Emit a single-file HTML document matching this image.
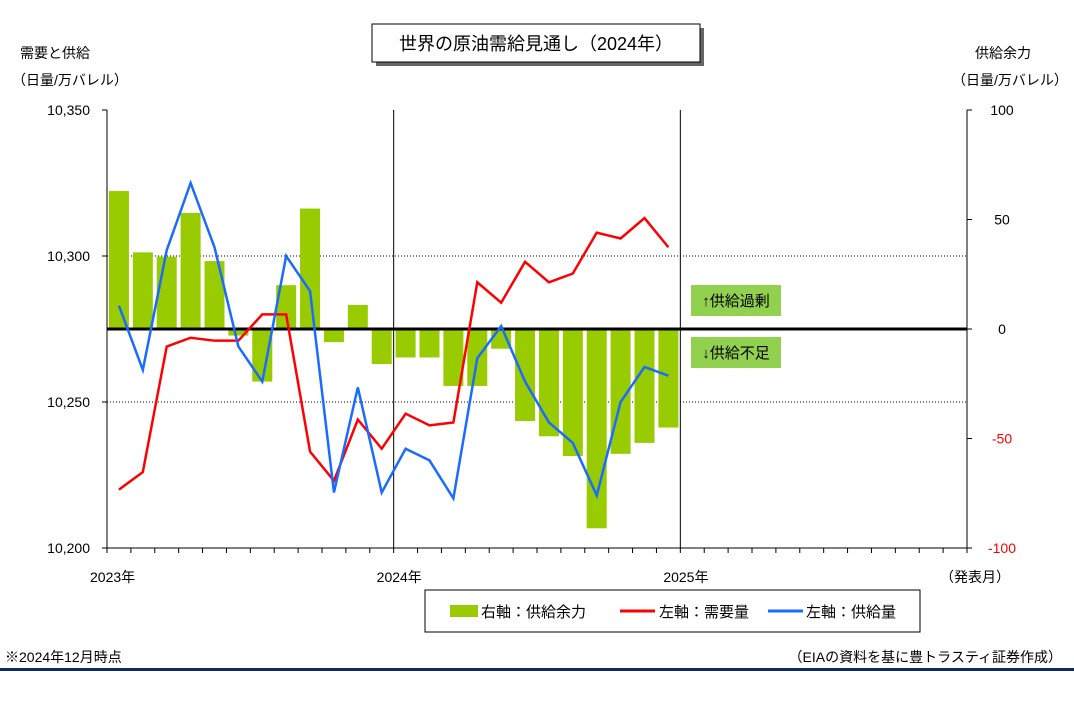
<!DOCTYPE html>
<html><head><meta charset="utf-8"><style>
body{margin:0;background:#fff;width:1074px;height:707px;overflow:hidden;font-family:"Liberation Sans","Noto Sans CJK JP",sans-serif;}
</style></head><body>
<svg id="chart" width="1074" height="707" xmlns="http://www.w3.org/2000/svg" font-family="'Liberation Sans','Noto Sans CJK JP',sans-serif">
<rect x="376" y="28" width="328" height="38" fill="#666"/>
<rect x="372" y="24" width="328" height="38" fill="#fff" stroke="#000"/>
<text x="536" y="50" font-size="18" text-anchor="middle">世界の原油需給見通し（2024年）</text>
<text x="20" y="58" font-size="14">需要と供給</text>
<text x="12" y="85" font-size="14">（日量/万バレル）</text>
<text x="975" y="58" font-size="14">供給余力</text>
<text x="952" y="85" font-size="14">（日量/万バレル）</text>
<g id="grid"></g><g id="bars"></g><g id="lines"></g><g id="axes"></g>
<rect x="691" y="285" width="90" height="31" fill="#92d050"/>
<text x="736" y="306" font-size="15" text-anchor="middle">↑供給過剰</text>
<rect x="691" y="337" width="90" height="31" fill="#92d050"/>
<text x="736" y="358" font-size="15" text-anchor="middle">↓供給不足</text>
<text x="940" y="582" font-size="14">（発表月）</text>
<g>
<rect x="425" y="590" width="495" height="42" fill="#fff" stroke="#000"/>
<rect x="450" y="605" width="28" height="12" fill="#99cc00"/>
<text x="481" y="617" font-size="15">右軸：供給余力</text>
<line x1="620" y1="611" x2="655" y2="611" stroke="#ff0000" stroke-width="3"/>
<text x="659" y="617" font-size="15">左軸：需要量</text>
<line x1="768" y1="611" x2="803" y2="611" stroke="#1a6bff" stroke-width="3"/>
<text x="806" y="617" font-size="15">左軸：供給量</text>
</g>
<text x="5" y="662" font-size="14">※2024年12月時点</text>
<text x="1062" y="662" font-size="14" text-anchor="end">（EIAの資料を基に豊トラスティ証券作成）</text>
<rect x="0" y="668" width="1074" height="3" fill="#0b2a5e"/>
</svg>
<script>
const surplus=[63,35,33,53,31,-3,-24,20,55,-6,11,-16,-13,-13,-26,-26,-9,-42,-49,-58,-91,-57,-52,-45];
const demand=[10220,10226,10269,10272,10271,10271,10280,10280,10233,10223,10244,10234,10246,10242,10243,10291,10284,10298,10291,10294,10308,10306,10313,10303];
const supply=[10283,10261,10302,10325,10303,10269,10257,10300,10288,10219,10255,10219,10234,10230,10217,10265,10276,10257,10243,10236,10218,10250,10262,10259];
const leftTicks=["10,200","10,250","10,300","10,350"];
const leftVals=[10200,10250,10300,10350];
const rightTicks=["-100","-50","0","50","100"];
const rightVals=[-100,-50,0,50,100];
const yearLabels=["2023年","2024年","2025年"];
const X0=107,X1=967,Y0=548,Y1=110,NM=36;
const mw=(X1-X0)/NM;
const xC=i=>X0+mw*(i+0.5);
const yL=v=>Y0-(v-10200)/150*(Y0-Y1);
const yR=v=>Y0-(v+100)/200*(Y0-Y1);
const NS="http://www.w3.org/2000/svg";
function mk(tag,attrs,parent){const e=document.createElementNS(NS,tag);for(const k in attrs)e.setAttribute(k,attrs[k]);document.getElementById(parent).appendChild(e);return e;}
[10250,10300].forEach(v=>{const l=mk('line',{x1:X0,x2:X1,y1:yL(v),y2:yL(v),stroke:'#000','stroke-dasharray':'1,2','stroke-width':1},'grid');

});
[12,24].forEach(m=>{const l=mk('line',{x1:X0+m*mw,x2:X0+m*mw,y1:Y1,y2:Y0,stroke:'#000'},'grid');

});
surplus.forEach((v,i)=>{const y=Math.min(yR(v),yR(0)),h=Math.abs(yR(v)-yR(0));
const r=mk('rect',{x:xC(i)-10,y:y,width:20,height:h,fill:'#99cc00'},'bars');

});
const zl=mk('line',{x1:X0,x2:X1,y1:yR(0),y2:yR(0),stroke:'#000','stroke-width':3},'bars');


const pd=mk('polyline',{points:demand.map((v,i)=>xC(i)+','+yL(v)).join(' '),fill:'none',stroke:'#ff0000','stroke-width':2.5},'lines');


const ps=mk('polyline',{points:supply.map((v,i)=>xC(i)+','+yL(v)).join(' '),fill:'none',stroke:'#1a6bff','stroke-width':2.5},'lines');


mk('line',{x1:X0,x2:X0,y1:Y1,y2:Y0,stroke:'#000'},'axes');
mk('line',{x1:X1,x2:X1,y1:Y1,y2:Y0,stroke:'#000'},'axes');
mk('line',{x1:X0,x2:X1,y1:Y0,y2:Y0,stroke:'#000'},'axes');
for(let m=0;m<=NM;m++)mk('line',{x1:X0+m*mw,x2:X0+m*mw,y1:Y0,y2:Y0+5,stroke:'#000'},'axes');
leftVals.forEach((v,i)=>{mk('line',{x1:X0-5,x2:X0,y1:yL(v),y2:yL(v),stroke:'#000'},'axes');
const t=mk('text',{x:90,y:yL(v)+5,'font-size':14,'text-anchor':'end'},'axes');t.textContent=leftTicks[i];

});
rightVals.forEach((v,i)=>{mk('line',{x1:X1,x2:X1+5,y1:yR(v),y2:yR(v),stroke:'#000'},'axes');
const t=mk('text',{x:1002,y:yR(v)+5,'font-size':14,'text-anchor':'middle',fill:v<0?'#ff0000':'#000'},'axes');t.textContent=rightTicks[i];

});
yearLabels.forEach((s,i)=>{const t=mk('text',{x:X0+i*12*mw-17,y:582,'font-size':14},'axes');t.textContent=s;

});
</script>
</body></html>
